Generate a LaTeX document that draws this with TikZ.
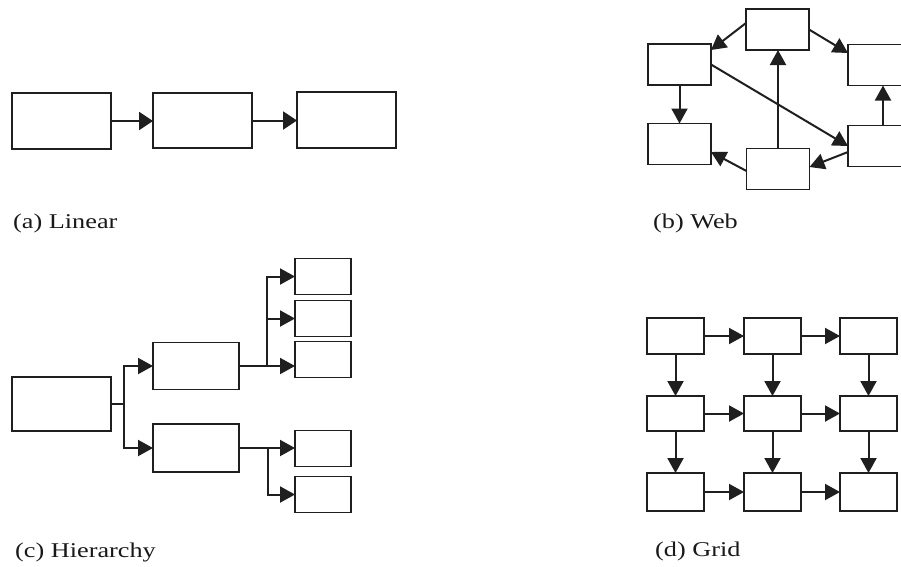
\documentclass[tikz,border=0pt]{standalone}
\usepackage{fontspec}
\setmainfont{Liberation Serif}[FakeStretch=1.25]
\usetikzlibrary{arrows.meta,calc}
\begin{document}
\begin{tikzpicture}[x=1pt,y=-1pt,
  box/.style={draw=black!88, line width=1.4pt, inner sep=0pt, outer sep=0pt, fill=white},
  conn/.style={draw=black!88, line width=2pt},
  arr/.style={conn, -{Triangle[length=15pt,width=16pt]}},
  lbl/.style={anchor=base west, inner sep=0pt, font=\fontsize{21}{23}\selectfont, text=black!90}]
\clip (0,0) rectangle (901,566);
\fill[white] (0,0) rectangle (901,566);
% (a) Linear
\node[box, minimum width=99pt, minimum height=56pt] (L1) at (61.5,121) {};
\node[box, minimum width=99pt, minimum height=55pt] (L2) at (202.5,120.5) {};
\node[box, minimum width=99pt, minimum height=56pt] (L3) at (346.5,120) {};
\draw[conn, -{Triangle[length=14pt,width=18pt]}] (L1.east) -- (L1.east -| L2.west);
\draw[conn, -{Triangle[length=14pt,width=18pt]}] (L2.east) -- (L2.east -| L3.west);
\node[lbl] (la) at (13,228) {(a) Linear};
% (b) Web
\begin{scope}[every node/.style={box, minimum width=63pt, minimum height=41pt}]
\node (T)  at (777.5,29.5) {};
\node (UL) at (679.5,64.5) {};
\node (UR) at (879.5,65) {};
\node (LL) at (679.5,144) {};
\node (BM) at (778,169) {};
\node (LR) at (879.5,146) {};
\end{scope}
\draw[arr] ($(T.west)+(0,-6.5)$) -- ($(UL.north east)+(0,6)$);
\draw[arr] (T.east) -- ($(UR.west)+(0,-12)$);
\draw[arr] (UL.south) -- (LL.north);
\draw[arr] (BM.north) -- (BM.north |- T.south);
\draw[arr] (UL.east) -- (LR.west);
\draw[arr] ($(LR.north)+(3.5,0)$) -- ($(UR.south)+(3.5,0)$);
\draw[arr] ($(LR.west)+(0,6)$) -- ($(BM.east)+(0,-2)$);
\draw[arr] ($(BM.west)+(0,2)$) -- ($(LL.east)+(0,8)$);
\node[lbl] (lb) at (653,228) {(b) Web};
% (c) Hierarchy
\node[box, minimum width=99pt, minimum height=54pt] (R) at (61.5,404) {};
\node[box, minimum width=86pt, minimum height=47pt] (M1) at (196,366) {};
\node[box, minimum width=86pt, minimum height=48pt] (M2) at (196,448) {};
\begin{scope}[every node/.style={box, minimum width=56pt, minimum height=36pt}]
\node (H1) at (323,276.5) {};
\node (H2) at (323,318.5) {};
\node (H3) at (323,359.5) {};
\node (H4) at (323,448.5) {};
\node (H5) at (323,494.5) {};
\end{scope}
\draw[conn] (R.east) -- ++(13,0) coordinate (rb);
\draw[arr] (rb) |- (M1.west);
\draw[arr] (rb) |- (M2.west);
\draw[conn] (M1.east) -- ++(28,0) coordinate (m1b);
\draw[arr] (m1b) -- (m1b -| H3.west);
\draw[arr] (m1b) |- (H2.west);
\draw[arr] (m1b) |- (H1.west);
\draw[conn] (M2.east) -- ++(29,0) coordinate (m2b);
\draw[arr] (m2b) -- (m2b -| H4.west);
\draw[arr] (m2b) |- (H5.west);
\node[lbl] (lc) at (15,557) {(c) Hierarchy};
% (d) Grid
\begin{scope}[every node/.style={box, minimum width=57pt}]
\node[minimum height=36pt] (G11) at (675.5,336) {};
\node[minimum height=36pt] (G12) at (772.5,336) {};
\node[minimum height=36pt] (G13) at (868.5,336) {};
\node[minimum height=35pt] (G21) at (675.5,413.5) {};
\node[minimum height=35pt] (G22) at (772.5,413.5) {};
\node[minimum height=35pt] (G23) at (868.5,413.5) {};
\node[minimum height=38pt] (G31) at (675.5,492) {};
\node[minimum height=38pt] (G32) at (772.5,492) {};
\node[minimum height=38pt] (G33) at (868.5,492) {};
\end{scope}
\foreach \r in {1,2,3}{
  \draw[arr] (G\r1.east) -- (G\r2.west);
  \draw[arr] (G\r2.east) -- (G\r3.west);
}
\foreach \c in {1,2,3}{
  \draw[arr] (G1\c.south) -- (G2\c.north);
  \draw[arr] (G2\c.south) -- (G3\c.north);
}
\node[lbl] (ld) at (655,556) {(d) Grid};
\end{tikzpicture}
\end{document}
